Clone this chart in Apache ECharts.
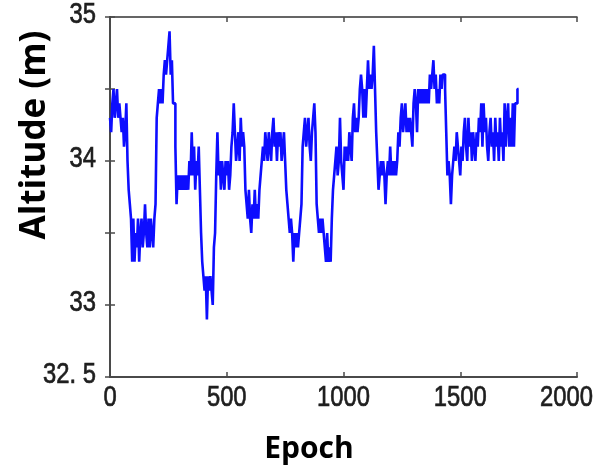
<!DOCTYPE html>
<html>
<head>
<meta charset="utf-8">
<script src="https://cdn.jsdelivr.net/npm/echarts@6/dist/echarts.min.js"></script>
<style>
html,body{margin:0;padding:0;background:#fff;}
#c{width:594px;height:470px;}
</style>
</head>
<body>
<div id="c"></div>
<script>
// Epoch spacing of the sampled altitude values
const EPOCH_STEP = 5;
// Altitude (m) sampled every 5 epochs, 0..1750
const altitude = [
  34.3, 34.2, 34.4, 34.5, 34.3, 34.4, 34.5, 34.3, 34.4, 34.3,
  34.2, 34.3, 34.1, 34.2, 34.4, 34.0, 33.8, 33.7, 33.6, 33.3,
  33.6, 33.3, 33.5, 33.4, 33.6, 33.3, 33.5, 33.6, 33.4, 33.5,
  33.7, 33.5, 33.4, 33.6, 33.4, 33.6, 33.5, 33.4, 33.6, 33.7,
  34.3, 34.4, 34.5, 34.4, 34.5, 34.4, 34.6, 34.7, 34.6, 34.7,
  34.8, 34.9, 34.6, 34.7, 34.4, 34.4, 34.1, 33.7, 33.9, 33.8,
  33.9, 33.8, 33.9, 33.8, 33.9, 33.8, 33.9, 33.8, 34.0, 33.9,
  34.2, 33.9, 34.1, 33.8, 34.0, 33.9, 34.1, 33.8, 33.5, 33.3,
  33.2, 33.1, 33.2, 32.9, 33.2, 33.1, 33.2, 33.1, 33.0, 33.4,
  33.5, 33.9, 34.2, 33.9, 34.0, 33.8, 34.0, 33.9, 33.8, 34.0,
  33.9, 34.0, 33.8, 33.9, 34.1, 34.2, 34.4, 34.2, 34.0, 34.1,
  34.2, 34.0, 34.3, 34.1, 34.2, 34.1, 33.8, 33.7, 33.6, 33.8,
  33.6, 33.5, 33.7, 33.6, 33.8, 33.6, 33.7, 33.6, 33.8, 33.9,
  34.0, 34.1, 34.0, 34.2, 34.1, 34.0, 34.2, 34.1, 34.0, 34.2,
  34.3, 34.1, 34.2, 34.0, 34.2, 34.1, 34.2, 34.0, 34.1, 34.2,
  34.0, 33.8, 33.7, 33.6, 33.5, 33.6, 33.5, 33.3, 33.5, 33.4,
  33.5, 33.4, 33.5, 33.6, 33.7, 34.1, 34.2, 34.3, 34.1, 34.2,
  34.3, 34.1, 34.0, 34.2, 34.3, 34.4, 34.2, 33.7, 33.6, 33.5,
  33.6, 33.5, 33.6, 33.5, 33.4, 33.3, 33.5, 33.3, 33.4, 33.3,
  33.6, 33.8, 33.9, 34.0, 34.1, 33.9, 34.0, 34.3, 34.0, 33.9,
  33.8, 34.1, 34.0, 34.1, 34.0, 34.2, 34.1, 34.0, 34.3, 34.4,
  34.2, 34.3, 34.2, 34.3, 34.5, 34.6, 34.5, 34.3, 34.5, 34.3,
  34.5, 34.7, 34.5, 34.6, 34.5, 34.6, 34.8, 34.5, 34.2, 34.0,
  33.8, 33.9, 34.0, 33.9, 34.0, 33.9, 33.7, 33.9, 34.0, 33.9,
  34.1, 33.9, 34.0, 33.9, 34.0, 33.9, 34.0, 34.2, 34.1, 34.3,
  34.4, 34.2, 34.3, 34.4, 34.2, 34.3, 34.2, 34.3, 34.2, 34.1,
  34.4, 34.5, 34.4, 34.2, 34.5, 34.4, 34.5, 34.4, 34.5, 34.4,
  34.5, 34.4, 34.5, 34.4, 34.6, 34.5, 34.6, 34.7, 34.5, 34.6,
  34.4, 34.5, 34.4, 34.6, 34.5, 34.6, 34.6, 34.5, 34.2, 33.9,
  34.0, 33.9, 33.7, 33.9, 34.0, 34.1, 34.0, 34.2, 34.1, 34.0,
  33.9, 34.1, 34.0, 34.2, 34.3, 34.1, 34.0, 34.3, 34.1, 34.2,
  34.0, 34.2, 34.1, 34.0, 34.2, 34.1, 34.3, 34.2, 34.4, 34.1,
  34.4, 34.2, 34.3, 34.1, 34.0, 34.2, 34.3, 34.1, 34.2, 34.0,
  34.3, 34.1, 34.2, 34.0, 34.3, 34.1, 34.2, 34.0, 34.4, 34.1,
  34.3, 34.4, 34.1, 34.3, 34.1, 34.4, 34.1, 34.4, 34.4, 34.5,
  34.5
];
// Axis ranges and tick labels
const xRange = [0, 2000];
const xInterval = 500;
const xTickValues = [0, 500, 1000, 1500, 2000];
const xTickLabels = ["0", "500", "1000", "1500", "2000"];
const yRange = [32.5, 35];
const yInterval = 0.5;
const yTickValues = [35, 34, 33, 32.5];
const yTickLabels = ["35", "34", "33", "32. 5"];
const xTitle = "Epoch";
const yTitle = "Altitude (m)";

const seriesData = altitude.map((v, i) => [i * EPOCH_STEP, v]);

const chart = echarts.init(document.getElementById('c'), null, {renderer: 'canvas'});
const axisColor = '#4a4a4a';
const labelFont = '29px "Liberation Sans", Arial, sans-serif';
const titleFont = '"Open Sans", "DejaVu Sans", sans-serif';

chart.setOption({
  animation: false,
  backgroundColor: '#ffffff',
  grid: {left: 110, right: 17, top: 17, bottom: 93, containLabel: false},
  xAxis: [
    {
      type: 'value', position: 'bottom', min: xRange[0], max: xRange[1], interval: xInterval,
      axisLine: {show: true, lineStyle: {color: axisColor, width: 2}},
      axisTick: {show: true, inside: true, length: 5, lineStyle: {color: axisColor, width: 1.5}},
      splitLine: {show: false},
      axisLabel: {show: false}
    },
    {
      type: 'value', position: 'top', min: xRange[0], max: xRange[1], interval: xInterval,
      axisLine: {show: true, lineStyle: {color: '#333', width: 1.5}},
      axisTick: {show: true, inside: true, length: 5, lineStyle: {color: axisColor, width: 1.5}},
      axisLabel: {show: false}, splitLine: {show: false}
    }
  ],
  yAxis: [
    {
      type: 'value', position: 'left', min: yRange[0], max: yRange[1], interval: yInterval,
      axisLine: {show: true, lineStyle: {color: axisColor, width: 2}},
      axisTick: {show: true, inside: true, length: 5, lineStyle: {color: axisColor, width: 1.5}},
      splitLine: {show: false},
      axisLabel: {show: false}
    },
    {
      type: 'value', position: 'right', min: yRange[0], max: yRange[1], interval: yInterval,
      axisLine: {show: true, lineStyle: {color: axisColor, width: 2}},
      axisTick: {show: true, inside: true, length: 5, lineStyle: {color: axisColor, width: 1.5}},
      axisLabel: {show: false}, splitLine: {show: false}
    }
  ],
  series: [{
    type: 'line',
    xAxisIndex: 0, yAxisIndex: 0,
    data: seriesData,
    step: 'end',
    showSymbol: false,
    symbol: 'none',
    lineStyle: {color: '#0d0dff', width: 2.6},
    clip: true
  }]
});

// Tick labels placed through the axes' own scales (narrow rendering like the reference)
const graphics = [];
const xAxisY = chart.convertToPixel({yAxisIndex: 0}, yRange[0]);
xTickValues.forEach((v, i) => {
  const px = chart.convertToPixel({xAxisIndex: 0}, v);
  const last = i === xTickValues.length - 1;
  graphics.push({
    type: 'text', x: last ? px + 16 : px, y: xAxisY + 21, scaleX: 0.82, scaleY: 1,
    style: {text: xTickLabels[i], fill: '#1e1e1e', font: labelFont,
            stroke: '#1e1e1e', lineWidth: 0.7,
            align: last ? 'right' : 'center', verticalAlign: 'middle'}
  });
});
const yAxisX = chart.convertToPixel({xAxisIndex: 0}, xRange[0]);
yTickValues.forEach((v, i) => {
  const py = chart.convertToPixel({yAxisIndex: 0}, v);
  graphics.push({
    type: 'text', x: yAxisX - 14, y: py - 2, scaleX: 0.82, scaleY: 1,
    style: {text: yTickLabels[i], fill: '#1e1e1e', font: labelFont,
            stroke: '#1e1e1e', lineWidth: 0.7,
            align: 'right', verticalAlign: 'middle'}
  });
});
graphics.push({
  type: 'text', x: 35, y: 135, rotation: Math.PI / 2,
  style: {text: yTitle, fill: '#000', font: 'bold 35px ' + titleFont,
          align: 'center', verticalAlign: 'middle'}
});
graphics.push({
  type: 'text', x: 309, y: 449,
  style: {text: xTitle, fill: '#000', font: 'bold 30px ' + titleFont,
          align: 'center', verticalAlign: 'middle'}
});
chart.setOption({graphic: graphics});
</script>
</body>
</html>
